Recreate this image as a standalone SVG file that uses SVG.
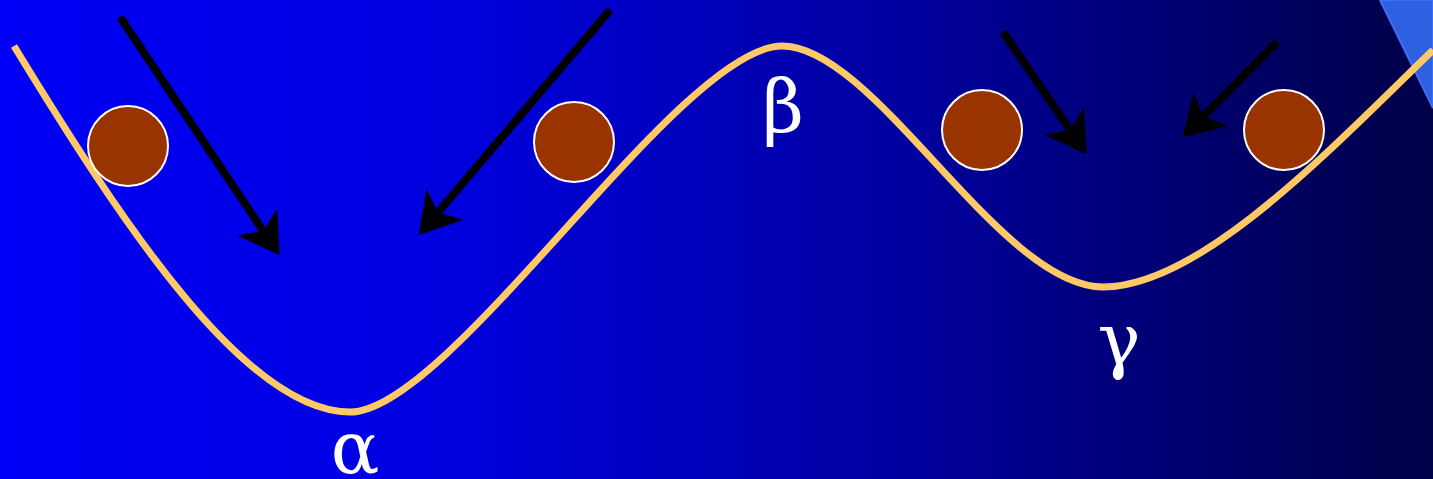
<svg xmlns="http://www.w3.org/2000/svg" width="1433" height="479" viewBox="0 0 1433 479">
<defs>
<linearGradient id="bg" x1="0" y1="0" x2="1" y2="0">
<stop offset="0" stop-color="#0000F6"/>
<stop offset="0.3" stop-color="#0000E0"/>
<stop offset="0.65" stop-color="#00009A"/>
<stop offset="1" stop-color="#000048"/>
</linearGradient>
<marker id="ah" markerWidth="6" markerHeight="6" refX="4.2" refY="3" orient="auto" markerUnits="strokeWidth">
<path d="M0,0 L5,3 L0,6 L1.3,3 Z" fill="#000"/>
</marker>
<style>
.ball{fill:#993300;stroke:#ffffff;stroke-width:2}
.arr{stroke:#000;stroke-width:8;fill:none;marker-end:url(#ah)}
.lbl{fill:#ffffff;font-family:"DejaVu Serif",serif;font-size:72px;text-anchor:middle}
</style>
</defs>
<rect width="1433" height="479" fill="url(#bg)"/>
<polygon points="1380,0 1433,0 1433,108" fill="#3060E2" stroke="#3A70FA" stroke-width="2"/>
<g id="curve">
<path d="M14,46 C120,220 245,412 350,412 C450,412 680,46 782,46 C875,46 1000,287 1103,287 C1200,287 1330,150 1433,50" fill="none" stroke="#FFC966" stroke-width="7"/>
</g>
<g id="balls">
<circle id="ball1" class="ball" cx="128" cy="146" r="40"/>
<circle id="ball2" class="ball" cx="574" cy="142" r="40"/>
<circle id="ball3" class="ball" cx="982" cy="130" r="40"/>
<circle id="ball4" class="ball" cx="1284" cy="130" r="40"/>
</g>
<g id="connectors">
<line class="arr" x1="120" y1="17" x2="276" y2="250"/>
<line class="arr" x1="610" y1="10" x2="423" y2="230"/>
<line class="arr" x1="1003" y1="32" x2="1083" y2="149"/>
<line class="arr" x1="1277" y1="42" x2="1187" y2="133"/>
</g>
<g id="labels">
<text id="alpha" class="lbl" x="355" y="473">α</text>
<text id="beta" class="lbl" x="783" y="132">β</text>
<text id="gamma" class="lbl" x="1119" y="365">γ</text>
</g>
</svg>
